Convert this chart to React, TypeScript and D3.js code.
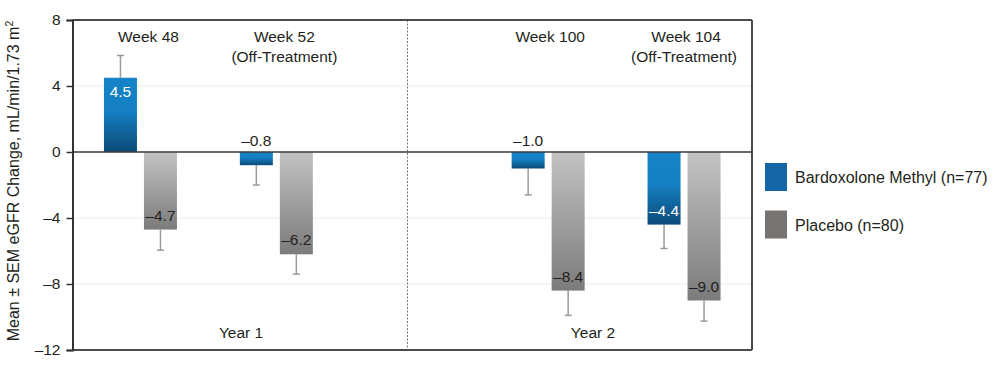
import React, { useEffect, useRef } from "react";
import * as d3 from "d3";

const groups = ["Week 48", "Week 52", "Week 100", "Week 104"];
const groupSub = ["", "(Off-Treatment)", "", "(Off-Treatment)"];
const groupPos = [0, 1, 3, 4];
const series = ["Bardoxolone Methyl (n=77)", "Placebo (n=80)"];
const bardoxolone = [4.5, -0.8, -1.0, -4.4];
const bardoxoloneSem = [1.35, 1.2, 1.6, 1.45];
const placebo = [-4.7, -6.2, -8.4, -9.0];
const placeboSem = [1.25, 1.2, 1.5, 1.25];
const yTicks = [8, 4, 0, -4, -8, -12];
const gridTicks = [4, -4, -8];
const yearLabels = ["Year 1", "Year 2"];
const yearPos = [0.74, 3.33];
const dividerPos = 1.965;

export default function App() {
  const ref = useRef<SVGSVGElement>(null);

  useEffect(() => {
    const svg = d3.select(ref.current);
    svg.selectAll("*").remove();
    const font = "'Liberation Sans', Arial, Helvetica, sans-serif";
    const textColor = "#231f20";
    const left = 72.5, right = 752, top = 20, bottom = 350;

    const y = d3.scaleLinear().domain([8, -12]).range([top, bottom]);
    const x = d3.scaleLinear().domain([-0.5, 4.5]).range([left, right]);
    const inner = d3.scaleBand<string>().domain(series).range([-36.5, 36.5]).paddingInner(0.175);

    const defs = svg.append("defs");
    const gb = defs.append("linearGradient").attr("id", "gBlue").attr("x1", 0).attr("y1", 0).attr("x2", 0).attr("y2", 1);
    gb.append("stop").attr("offset", "0%").attr("stop-color", "#1683c8");
    gb.append("stop").attr("offset", "45%").attr("stop-color", "#147fc2");
    gb.append("stop").attr("offset", "100%").attr("stop-color", "#0b4a77");
    const gg = defs.append("linearGradient").attr("id", "gGray").attr("x1", 0).attr("y1", 0).attr("x2", 0).attr("y2", 1);
    gg.append("stop").attr("offset", "0%").attr("stop-color", "#c3c3c3");
    gg.append("stop").attr("offset", "100%").attr("stop-color", "#7b7b7b");

    // grid
    svg.append("g").selectAll("line").data(gridTicks).join("line")
      .attr("x1", left).attr("x2", right).attr("y1", (d) => y(d)).attr("y2", (d) => y(d))
      .attr("stroke", "#ececec").attr("stroke-width", 1.2);

    // divider
    svg.append("line").attr("x1", x(dividerPos)).attr("x2", x(dividerPos))
      .attr("y1", top).attr("y2", bottom).attr("stroke", "#777").attr("stroke-width", 1)
      .attr("stroke-dasharray", "2,1.5");

    // frame
    svg.append("line").attr("x1", left).attr("x2", right).attr("y1", top).attr("y2", top)
      .attr("stroke", "#4a4a4a").attr("stroke-width", 2);
    svg.append("line").attr("x1", right).attr("x2", right).attr("y1", top).attr("y2", bottom)
      .attr("stroke", "#4a4a4a").attr("stroke-width", 2);
    svg.append("line").attr("x1", left).attr("x2", right).attr("y1", bottom).attr("y2", bottom)
      .attr("stroke", "#4a4a4a").attr("stroke-width", 2);

    const data = groups.flatMap((g, i) => [
      { g, i, s: series[0], v: bardoxolone[i], e: bardoxoloneSem[i], fill: "url(#gBlue)", light: true },
      { g, i, s: series[1], v: placebo[i], e: placeboSem[i], fill: "url(#gGray)", light: false },
    ]);
    const cx = (d: any) => x(groupPos[d.i]) + (inner(d.s) as number) + inner.bandwidth() / 2;

    // error bars
    const eb = svg.append("g");
    data.forEach((d) => {
      const end = d.v + Math.sign(d.v) * d.e;
      const c = cx(d);
      eb.append("line").attr("x1", c).attr("x2", c).attr("y1", y(d.v)).attr("y2", y(end))
        .attr("stroke", "#9a9a9a").attr("stroke-width", 1.5);
      eb.append("line").attr("x1", c - 3.5).attr("x2", c + 3.5).attr("y1", y(end)).attr("y2", y(end))
        .attr("stroke", "#9a9a9a").attr("stroke-width", 1.5);
    });

    // bars
    svg.append("g").selectAll("rect").data(data).join("rect")
      .attr("x", (d) => x(groupPos[d.i]) + (inner(d.s) as number))
      .attr("width", inner.bandwidth())
      .attr("y", (d) => y(Math.max(0, d.v)))
      .attr("height", (d) => Math.abs(y(d.v) - y(0)))
      .attr("fill", (d) => d.fill);

    // zero line
    svg.append("line").attr("x1", left).attr("x2", right).attr("y1", y(0)).attr("y2", y(0))
      .attr("stroke", "#3a3a3a").attr("stroke-width", 1.6);

    // value labels
    const fmt = (v: number) => (v < 0 ? "\u2013" : "") + Math.abs(v).toFixed(1);
    svg.append("g").selectAll("text").data(data).join("text")
      .attr("x", (d) => cx(d))
      .attr("y", (d) => {
        if (Math.abs(d.v) < 2) return y(0) - 6;
        if (d.v > 0) return y(d.v) + 19;
        return y(d.v) - 9;
      })
      .attr("text-anchor", "middle")
      .attr("font-family", font).attr("font-size", 15.5)
      .attr("fill", (d) => (Math.abs(d.v) < 2 ? textColor : d.light ? "#ffffff" : textColor))
      .text((d) => fmt(d.v));

    // y axis
    const axis = d3.axisLeft(y).tickValues(yTicks).tickSize(6).tickPadding(6)
      .tickFormat((d: any) => (d < 0 ? "\u2013" : "") + Math.abs(d));
    const ag = svg.append("g").attr("transform", `translate(${left},0)`).call(axis as any);
    ag.select(".domain").attr("stroke", "#333").attr("stroke-width", 2);
    ag.selectAll(".tick line").attr("stroke", "#333").attr("stroke-width", 1.5);
    ag.selectAll(".tick text").attr("font-family", font).attr("font-size", 15.5).attr("fill", textColor);

    // y title
    const yt = svg.append("text")
      .attr("transform", `translate(19,181) rotate(-90)`)
      .attr("text-anchor", "middle")
      .attr("font-family", font).attr("font-size", 16).attr("fill", textColor);
    yt.append("tspan").text("Mean \u00b1 SEM eGFR Change, mL/min/1.73 m");
    yt.append("tspan").attr("font-size", 10.5).attr("dy", -6).text("2");

    // group labels
    const gl = svg.append("g").attr("font-family", font).attr("font-size", 15.5).attr("fill", textColor).attr("text-anchor", "middle");
    groups.forEach((g, i) => {
      const t = gl.append("text").attr("x", x(groupPos[i]) + (i < 2 ? 8 : 2)).attr("y", 42);
      t.append("tspan").text(g);
      if (groupSub[i]) t.append("tspan").attr("x", x(groupPos[i]) + (i < 2 ? 8 : 0)).attr("y", 61.5).text(groupSub[i]);
    });

    // year labels
    svg.append("g").selectAll("text").data(yearLabels).join("text")
      .attr("x", (d, i) => x(yearPos[i])).attr("y", 338)
      .attr("text-anchor", "middle").attr("font-family", font).attr("font-size", 15.5).attr("fill", textColor)
      .text((d) => d);

    // legend
    const legColors = ["#1566a6", "#767371"];
    const lg = svg.append("g");
    series.forEach((s, i) => {
      const ly = 163 + i * 47.5;
      lg.append("rect").attr("x", 765).attr("y", ly).attr("width", 22).attr("height", 28).attr("fill", legColors[i]);
      lg.append("text").attr("x", 795).attr("y", ly + 20).attr("font-family", font).attr("font-size", 16)
        .attr("fill", textColor).text(s);
    });
  }, []);

  return (
    <svg ref={ref} width={997} height={378} style={{ position: "absolute", left: 0, top: 0, background: "#fff" }} />
  );
}
